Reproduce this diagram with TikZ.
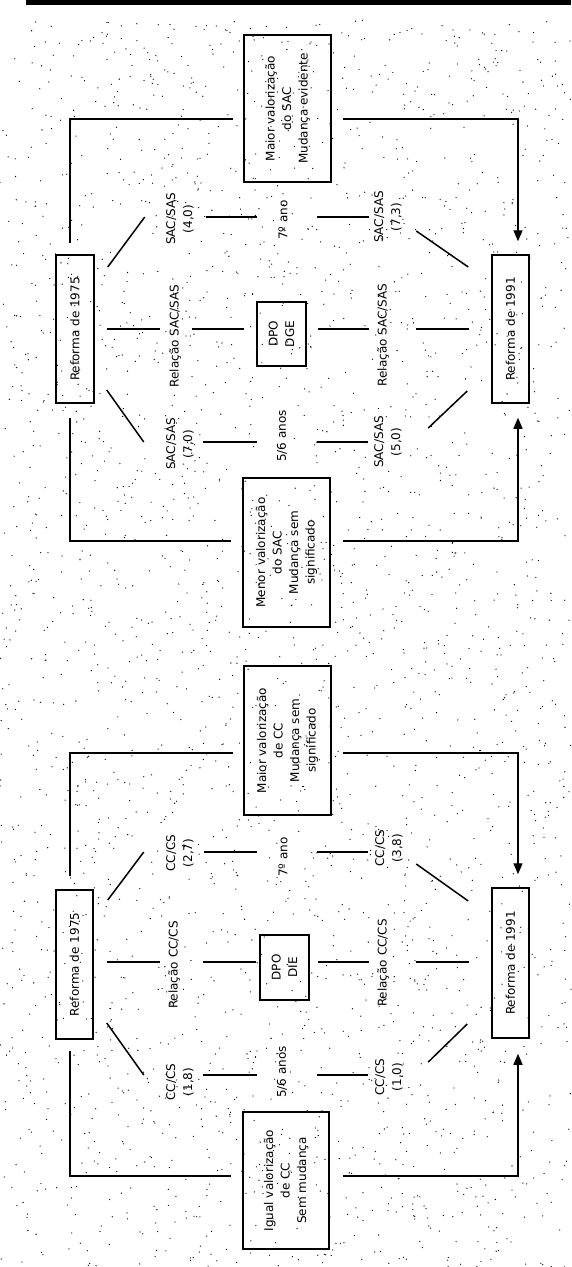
\documentclass[tikz,border=0pt]{standalone}
\usepackage{fontspec}
\setmainfont{DejaVu Sans}
\usetikzlibrary{arrows.meta,calc}
\begin{document}
\begin{tikzpicture}[x=1pt,y=-1pt,
  box/.style={draw,line width=1.5pt,rotate=90,inner sep=0pt,align=center,font=\fontsize{12}{16.5}\selectfont},
  lbl/.style={rotate=90,align=center,inner sep=1pt,font=\fontsize{12}{17}\selectfont},
  conn/.style={line width=1.4pt},
  arr/.style={conn,-{Triangle[width=9pt,length=11pt]}},
  seg/.style={line width=1.2pt},
  diag/.style={line width=1.5pt}
]
\fill[white] (0,0) rectangle (571,1267);
\useasboundingbox (0,0) rectangle (571,1267);
% stipple background
\pgfmathsetseed{7}
\foreach \i in {1,...,2800}{\fill ({rnd*571},{20+rnd*1247}) circle (0.65);}
% header bar
\fill (26,0) rectangle (571,5);

% ===== upper diagram =====
\node[box,minimum width=148,minimum height=38] (r75a) at (75,329) {Reforma de 1975};
\node[box,minimum width=148,minimum height=37] (r91a) at (510.5,329) {Reforma de 1991};
\node[box,minimum width=147,minimum height=87] (maxA) at (287.5,108.5) {Maior valorização\\do SAC\\Mudança evidente};
\node[box,minimum width=149,minimum height=87] (minA) at (286.5,552.5) {Menor valorização\\do SAC\\Mudança sem\\significado};
\node[box,minimum width=64,minimum height=49] (dpoA) at (281.5,334) {DPO\\DGE};

\node[lbl] (sacA1) at (180,219) {SAC/SAS\\(4,0)};
\node[lbl] (anoA1) at (283,220) {7º ano};
\node[lbl] (sacA2) at (388,217) {SAC/SAS\\(7,3)};
\node[lbl] (relA1) at (175,336) {Relação SAC/SAS};
\node[lbl] (relA2) at (383,335) {Relação SAC/SAS};
\node[lbl] (sacA3) at (180,444) {SAC/SAS\\(7,0)};
\node[lbl] (anoA2) at (282,436) {5/6 anos};
\node[lbl] (sacA4) at (388,442) {SAC/SAS\\(5,0)};

\draw[conn] ($(r75a.east)+(-5,-11)$) |- ($(maxA.north)+(-10,10.5)$);
\draw[arr] ($(maxA.south)+(11,10.5)$) -| ($(r91a.east)+(7.5,-13)$);
\draw[conn] ($(r75a.west)+(-5,14)$) |- ($(minA.north)+(-11,-11.5)$);
\draw[arr] ($(minA.south)+(12,-11.5)$) -| ($(r91a.west)+(7.5,14)$);

\draw[seg,line width=1.8pt] ($(r75a.south)+(12,0)$) -- ($(r75a.south)+(65,0)$);
\draw[seg,line width=1.8pt] ($(dpoA.north)+(-64,-5)$) -- ($(dpoA.north)+(-12,-5)$);
\draw[seg,line width=1.8pt] ($(dpoA.south)+(11,-5)$) -- ($(dpoA.south)+(62,-5)$);
\draw[seg,line width=1.8pt] ($(r91a.north)+(-75,0)$) -- ($(r91a.north)+(-22,0)$);

\draw[seg] ($(sacA1.center)+(26,-2)$) -- ($(sacA1.center)+(77,-2)$);
\draw[seg] ($(sacA2.center)+(-71,0)$) -- ($(sacA2.center)+(-19,0)$);
\draw[seg] ($(sacA3.center)+(23,-2)$) -- ($(sacA3.center)+(77,-2)$);
\draw[seg] ($(sacA4.center)+(-71,0)$) -- ($(sacA4.center)+(-20,0)$);

\draw[diag] ($(r75a.south)+(13,-62)$) -- ($(r75a.south)+(50,-112)$);
\draw[diag] ($(r75a.south)+(12,61)$) -- ($(r75a.south)+(49,113)$);
\draw[diag] ($(r91a.north)+(-75,-98)$) -- ($(r91a.north)+(-23,-62)$);
\draw[diag] ($(r91a.north)+(-63,99)$) -- ($(r91a.north)+(-24,62)$);

% ===== lower diagram =====
\node[box,minimum width=149,minimum height=37] (r75b) at (74.5,964.5) {Reforma de 1975};
\node[box,minimum width=150,minimum height=37] (r91b) at (510.5,963) {Reforma de 1991};
\node[box,minimum width=149,minimum height=87] (maxB) at (287.5,740.5) {Maior valorização\\de CC\\Mudança sem\\significado};
\node[box,minimum width=137,minimum height=86] (minB) at (286,1180.5) {Igual valorização\\de CC\\Sem mudança};
\node[box,minimum width=65,minimum height=49] (dpoB) at (284.5,967.5) {DPO\\DIE};

\node[lbl] (ccB1) at (180,853) {CC/CS\\(2,7)};
\node[lbl] (anoB1) at (283,857) {7º ano};
\node[lbl] (ccB2) at (389,848) {CC/CS\\(3,8)};
\node[lbl] (relB1) at (174,965) {Relação CC/CS};
\node[lbl] (relB2) at (383,963) {Relação CC/CS};
\node[lbl] (ccB3) at (180,1082) {CC/CS\\(1,8)};
\node[lbl] (anoB2) at (282,1072) {5/6 anos};
\node[lbl] (ccB4) at (389,1077) {CC/CS\\(1,0)};

\draw[conn] ($(r75b.east)+(-4.5,-13)$) |- ($(maxB.north)+(-10,12.5)$);
\draw[arr] ($(maxB.south)+(11,12.5)$) -| ($(r91b.east)+(7.5,-13)$);
\draw[conn] ($(r75b.west)+(-4.5,11)$) |- ($(minB.north)+(-11,-4.5)$);
\draw[arr] ($(minB.south)+(13,-4.5)$) -| ($(r91b.west)+(7.5,15)$);

\draw[seg,line width=1.8pt] ($(r75b.south)+(13,-2.5)$) -- ($(r75b.south)+(66,-2.5)$);
\draw[seg,line width=1.8pt] ($(dpoB.north)+(-56,-5.5)$) -- ($(dpoB.north)+(-3,-5.5)$);
\draw[seg,line width=1.8pt] ($(dpoB.south)+(8,-5.5)$) -- ($(dpoB.south)+(59,-5.5)$);
\draw[seg] ($(r91b.north)+(-75,-1)$) -- ($(r91b.north)+(-22,-1)$);

\draw[seg] ($(ccB1.center)+(24,-1)$) -- ($(ccB1.center)+(77,-1)$);
\draw[seg] ($(ccB2.center)+(-72,4)$) -- ($(ccB2.center)+(-21,4)$);
\draw[seg] ($(ccB3.center)+(23,-7)$) -- ($(ccB3.center)+(77,-7)$);
\draw[seg] ($(ccB4.center)+(-72,-2)$) -- ($(ccB4.center)+(-21,-2)$);

\draw[diag] ($(r75b.south)+(14,-64.5)$) -- ($(r75b.south)+(50,-112.5)$);
\draw[diag] ($(r75b.south)+(13,58.5)$) -- ($(r75b.south)+(50,110.5)$);
\draw[diag] ($(r91b.north)+(-75,-99)$) -- ($(r91b.north)+(-23,-62)$);
\draw[diag] ($(r91b.north)+(-63,99)$) -- ($(r91b.north)+(-24,61)$);
\end{tikzpicture}
\end{document}
